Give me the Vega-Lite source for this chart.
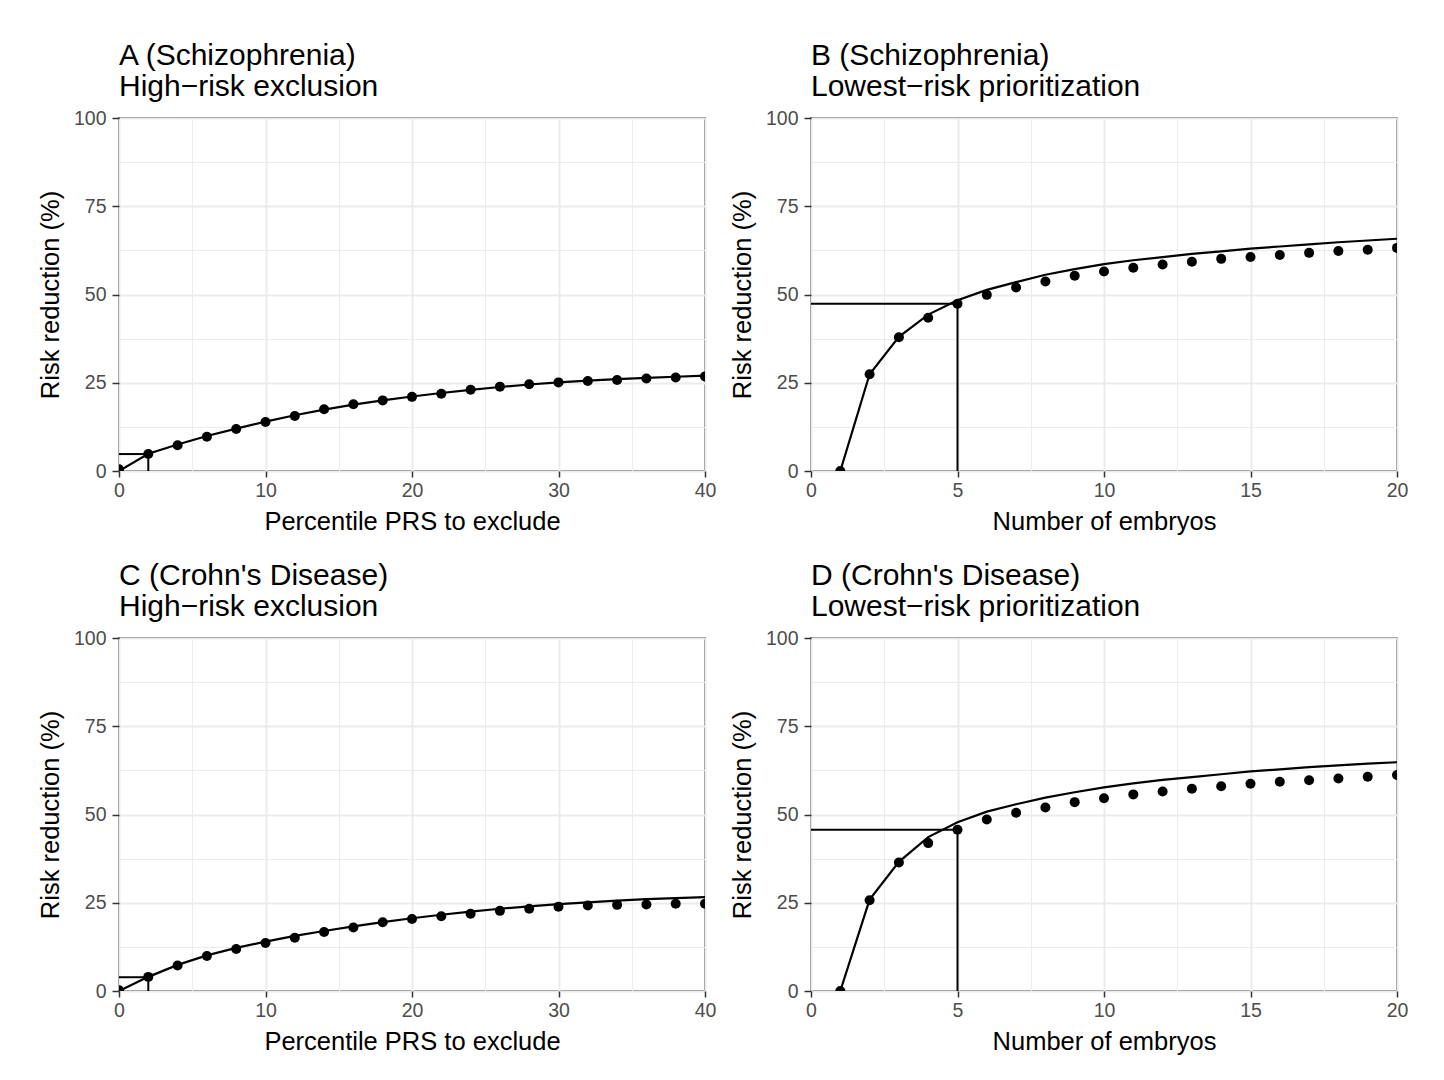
{
  "$schema": "https://vega.github.io/schema/vega-lite/v6.json",
  "padding": {"left": 37, "top": 40, "right": 0, "bottom": 0},
  "background": "white",
  "datasets": {
    "A": [
      {"x": 0, "obs": 0.5, "pred": 0},
      {"x": 2, "obs": 4.8, "pred": 4.9},
      {"x": 4, "obs": 7.3, "pred": 7.5},
      {"x": 6, "obs": 9.7, "pred": 9.9},
      {"x": 8, "obs": 11.9, "pred": 12.0},
      {"x": 10, "obs": 13.9, "pred": 14.0},
      {"x": 12, "obs": 15.6, "pred": 15.8},
      {"x": 14, "obs": 17.5, "pred": 17.4},
      {"x": 16, "obs": 18.9, "pred": 18.8},
      {"x": 18, "obs": 20.0, "pred": 20.0},
      {"x": 20, "obs": 21.0, "pred": 21.1},
      {"x": 22, "obs": 21.9, "pred": 22.1},
      {"x": 24, "obs": 23.0, "pred": 23.0},
      {"x": 26, "obs": 23.9, "pred": 23.8},
      {"x": 28, "obs": 24.6, "pred": 24.5},
      {"x": 30, "obs": 25.1, "pred": 25.1},
      {"x": 32, "obs": 25.5, "pred": 25.6},
      {"x": 34, "obs": 25.8, "pred": 26.0},
      {"x": 36, "obs": 26.2, "pred": 26.4},
      {"x": 38, "obs": 26.5, "pred": 26.7},
      {"x": 40, "obs": 26.8, "pred": 27.0}
    ],
    "C": [
      {"x": 0, "obs": 0.2, "pred": 0},
      {"x": 2, "obs": 4.0, "pred": 4.0},
      {"x": 4, "obs": 7.2, "pred": 7.4},
      {"x": 6, "obs": 9.9, "pred": 10.1},
      {"x": 8, "obs": 11.9, "pred": 12.2},
      {"x": 10, "obs": 13.6, "pred": 14.0},
      {"x": 12, "obs": 15.1, "pred": 15.6},
      {"x": 14, "obs": 16.7, "pred": 17.0},
      {"x": 16, "obs": 18.0, "pred": 18.3},
      {"x": 18, "obs": 19.5, "pred": 19.5},
      {"x": 20, "obs": 20.4, "pred": 20.6},
      {"x": 22, "obs": 21.2, "pred": 21.6},
      {"x": 24, "obs": 21.9, "pred": 22.5},
      {"x": 26, "obs": 22.7, "pred": 23.3},
      {"x": 28, "obs": 23.3, "pred": 24.0},
      {"x": 30, "obs": 23.9, "pred": 24.6},
      {"x": 32, "obs": 24.2, "pred": 25.1},
      {"x": 34, "obs": 24.4, "pred": 25.6},
      {"x": 36, "obs": 24.5, "pred": 26.0},
      {"x": 38, "obs": 24.7, "pred": 26.3},
      {"x": 40, "obs": 24.7, "pred": 26.6}
    ],
    "B": [
      {"x": 1, "obs": 0, "pred": 0},
      {"x": 2, "obs": 27.4, "pred": 27.4},
      {"x": 3, "obs": 37.9, "pred": 38.0},
      {"x": 4, "obs": 43.4, "pred": 44.3},
      {"x": 5, "obs": 47.4, "pred": 48.4},
      {"x": 6, "obs": 49.9, "pred": 51.3},
      {"x": 7, "obs": 52.0, "pred": 53.5},
      {"x": 8, "obs": 53.7, "pred": 55.6},
      {"x": 9, "obs": 55.3, "pred": 57.2},
      {"x": 10, "obs": 56.5, "pred": 58.6},
      {"x": 11, "obs": 57.6, "pred": 59.7},
      {"x": 12, "obs": 58.5, "pred": 60.6},
      {"x": 13, "obs": 59.3, "pred": 61.5},
      {"x": 14, "obs": 60.1, "pred": 62.2},
      {"x": 15, "obs": 60.6, "pred": 63.0},
      {"x": 16, "obs": 61.2, "pred": 63.6},
      {"x": 17, "obs": 61.8, "pred": 64.2},
      {"x": 18, "obs": 62.3, "pred": 64.8},
      {"x": 19, "obs": 62.7, "pred": 65.3},
      {"x": 20, "obs": 63.2, "pred": 65.8}
    ],
    "D": [
      {"x": 1, "obs": 0, "pred": 0},
      {"x": 2, "obs": 25.7, "pred": 25.9},
      {"x": 3, "obs": 36.4, "pred": 36.6},
      {"x": 4, "obs": 41.9, "pred": 43.6},
      {"x": 5, "obs": 45.7, "pred": 47.8},
      {"x": 6, "obs": 48.6, "pred": 50.8},
      {"x": 7, "obs": 50.5, "pred": 52.9},
      {"x": 8, "obs": 52.0, "pred": 54.8},
      {"x": 9, "obs": 53.5, "pred": 56.3},
      {"x": 10, "obs": 54.6, "pred": 57.7},
      {"x": 11, "obs": 55.7, "pred": 58.8},
      {"x": 12, "obs": 56.5, "pred": 59.8},
      {"x": 13, "obs": 57.3, "pred": 60.6},
      {"x": 14, "obs": 58.0, "pred": 61.4},
      {"x": 15, "obs": 58.7, "pred": 62.2},
      {"x": 16, "obs": 59.3, "pred": 62.8},
      {"x": 17, "obs": 59.7, "pred": 63.4},
      {"x": 18, "obs": 60.2, "pred": 63.9},
      {"x": 19, "obs": 60.7, "pred": 64.4},
      {"x": 20, "obs": 61.2, "pred": 64.8}
    ],
    "refA": [{"n": 2, "r": 4.8, "z": 0}],
    "refB": [{"n": 5, "r": 47.4, "z": 0}],
    "refC": [{"n": 2, "r": 3.9, "z": 0}],
    "refD": [{"n": 5, "r": 45.7, "z": 0}]
  },
  "columns": 2,
  "spacing": {"row": 167, "column": 106},
  "bounds": "flush",
  "concat": [
    {
      "width": 586, "height": 353,
      "title": {"text": ["A (Schizophrenia)", "High−risk exclusion"]},
      "layer": [
        {"data": {"name": "A"}, "mark": {"type": "line", "color": "black", "strokeWidth": 2.2, "clip": true},
         "encoding": {
           "x": {"field": "x", "type": "quantitative", "scale": {"domain": [0, 40], "nice": false},
                 "axis": {"title": "Percentile PRS to exclude", "values": [0,5,10,15,20,25,30,35,40],
                          "labelExpr": "datum.value % 10 === 0 ? datum.label : ''",
                          "gridWidth": {"condition": {"test": "datum.value % 10 === 0", "value": 2}, "value": 1},
                          "tickOpacity": {"condition": {"test": "datum.value % 10 === 0", "value": 1}, "value": 0}}},
           "y": {"field": "pred", "type": "quantitative", "scale": {"domain": [0, 100], "nice": false},
                 "axis": {"title": "Risk reduction (%)", "values": [0,12.5,25,37.5,50,62.5,75,87.5,100],
                          "labelExpr": "datum.value % 25 === 0 ? datum.label : ''",
                          "gridWidth": {"condition": {"test": "datum.value % 25 === 0", "value": 2}, "value": 1},
                          "tickOpacity": {"condition": {"test": "datum.value % 25 === 0", "value": 1}, "value": 0}}}
         }},
        {"data": {"name": "A"}, "mark": {"type": "point", "filled": true, "color": "black", "opacity": 1, "size": 100, "clip": true},
         "encoding": {"x": {"field": "x", "type": "quantitative"}, "y": {"field": "obs", "type": "quantitative"}}},
        {"data": {"name": "refA"}, "mark": {"type": "rule", "color": "black", "strokeWidth": 2},
         "encoding": {"x": {"field": "z", "type": "quantitative"}, "x2": {"field": "n"}, "y": {"field": "r", "type": "quantitative"}}},
        {"data": {"name": "refA"}, "mark": {"type": "rule", "color": "black", "strokeWidth": 2},
         "encoding": {"x": {"field": "n", "type": "quantitative"}, "y": {"field": "z", "type": "quantitative"}, "y2": {"field": "r"}}}
      ]
    },
    {
      "width": 586, "height": 353,
      "title": {"text": ["B (Schizophrenia)", "Lowest−risk prioritization"]},
      "layer": [
        {"data": {"name": "B"}, "mark": {"type": "line", "color": "black", "strokeWidth": 2.2, "clip": true},
         "encoding": {
           "x": {"field": "x", "type": "quantitative", "scale": {"domain": [0, 20], "nice": false},
                 "axis": {"title": "Number of embryos", "values": [0,2.5,5,7.5,10,12.5,15,17.5,20],
                          "labelExpr": "datum.value % 5 === 0 ? datum.label : ''",
                          "gridWidth": {"condition": {"test": "datum.value % 5 === 0", "value": 2}, "value": 1},
                          "tickOpacity": {"condition": {"test": "datum.value % 5 === 0", "value": 1}, "value": 0}}},
           "y": {"field": "pred", "type": "quantitative", "scale": {"domain": [0, 100], "nice": false},
                 "axis": {"title": "Risk reduction (%)", "values": [0,12.5,25,37.5,50,62.5,75,87.5,100],
                          "labelExpr": "datum.value % 25 === 0 ? datum.label : ''",
                          "gridWidth": {"condition": {"test": "datum.value % 25 === 0", "value": 2}, "value": 1},
                          "tickOpacity": {"condition": {"test": "datum.value % 25 === 0", "value": 1}, "value": 0}}}
         }},
        {"data": {"name": "B"}, "mark": {"type": "point", "filled": true, "color": "black", "opacity": 1, "size": 100, "clip": true},
         "encoding": {"x": {"field": "x", "type": "quantitative"}, "y": {"field": "obs", "type": "quantitative"}}},
        {"data": {"name": "refB"}, "mark": {"type": "rule", "color": "black", "strokeWidth": 2},
         "encoding": {"x": {"field": "z", "type": "quantitative"}, "x2": {"field": "n"}, "y": {"field": "r", "type": "quantitative"}}},
        {"data": {"name": "refB"}, "mark": {"type": "rule", "color": "black", "strokeWidth": 2},
         "encoding": {"x": {"field": "n", "type": "quantitative"}, "y": {"field": "z", "type": "quantitative"}, "y2": {"field": "r"}}}
      ]
    },
    {
      "width": 586, "height": 353,
      "title": {"text": ["C (Crohn's Disease)", "High−risk exclusion"]},
      "layer": [
        {"data": {"name": "C"}, "mark": {"type": "line", "color": "black", "strokeWidth": 2.2, "clip": true},
         "encoding": {
           "x": {"field": "x", "type": "quantitative", "scale": {"domain": [0, 40], "nice": false},
                 "axis": {"title": "Percentile PRS to exclude", "values": [0,5,10,15,20,25,30,35,40],
                          "labelExpr": "datum.value % 10 === 0 ? datum.label : ''",
                          "gridWidth": {"condition": {"test": "datum.value % 10 === 0", "value": 2}, "value": 1},
                          "tickOpacity": {"condition": {"test": "datum.value % 10 === 0", "value": 1}, "value": 0}}},
           "y": {"field": "pred", "type": "quantitative", "scale": {"domain": [0, 100], "nice": false},
                 "axis": {"title": "Risk reduction (%)", "values": [0,12.5,25,37.5,50,62.5,75,87.5,100],
                          "labelExpr": "datum.value % 25 === 0 ? datum.label : ''",
                          "gridWidth": {"condition": {"test": "datum.value % 25 === 0", "value": 2}, "value": 1},
                          "tickOpacity": {"condition": {"test": "datum.value % 25 === 0", "value": 1}, "value": 0}}}
         }},
        {"data": {"name": "C"}, "mark": {"type": "point", "filled": true, "color": "black", "opacity": 1, "size": 100, "clip": true},
         "encoding": {"x": {"field": "x", "type": "quantitative"}, "y": {"field": "obs", "type": "quantitative"}}},
        {"data": {"name": "refC"}, "mark": {"type": "rule", "color": "black", "strokeWidth": 2},
         "encoding": {"x": {"field": "z", "type": "quantitative"}, "x2": {"field": "n"}, "y": {"field": "r", "type": "quantitative"}}},
        {"data": {"name": "refC"}, "mark": {"type": "rule", "color": "black", "strokeWidth": 2},
         "encoding": {"x": {"field": "n", "type": "quantitative"}, "y": {"field": "z", "type": "quantitative"}, "y2": {"field": "r"}}}
      ]
    },
    {
      "width": 586, "height": 353,
      "title": {"text": ["D (Crohn's Disease)", "Lowest−risk prioritization"]},
      "layer": [
        {"data": {"name": "D"}, "mark": {"type": "line", "color": "black", "strokeWidth": 2.2, "clip": true},
         "encoding": {
           "x": {"field": "x", "type": "quantitative", "scale": {"domain": [0, 20], "nice": false},
                 "axis": {"title": "Number of embryos", "values": [0,2.5,5,7.5,10,12.5,15,17.5,20],
                          "labelExpr": "datum.value % 5 === 0 ? datum.label : ''",
                          "gridWidth": {"condition": {"test": "datum.value % 5 === 0", "value": 2}, "value": 1},
                          "tickOpacity": {"condition": {"test": "datum.value % 5 === 0", "value": 1}, "value": 0}}},
           "y": {"field": "pred", "type": "quantitative", "scale": {"domain": [0, 100], "nice": false},
                 "axis": {"title": "Risk reduction (%)", "values": [0,12.5,25,37.5,50,62.5,75,87.5,100],
                          "labelExpr": "datum.value % 25 === 0 ? datum.label : ''",
                          "gridWidth": {"condition": {"test": "datum.value % 25 === 0", "value": 2}, "value": 1},
                          "tickOpacity": {"condition": {"test": "datum.value % 25 === 0", "value": 1}, "value": 0}}}
         }},
        {"data": {"name": "D"}, "mark": {"type": "point", "filled": true, "color": "black", "opacity": 1, "size": 100, "clip": true},
         "encoding": {"x": {"field": "x", "type": "quantitative"}, "y": {"field": "obs", "type": "quantitative"}}},
        {"data": {"name": "refD"}, "mark": {"type": "rule", "color": "black", "strokeWidth": 2},
         "encoding": {"x": {"field": "z", "type": "quantitative"}, "x2": {"field": "n"}, "y": {"field": "r", "type": "quantitative"}}},
        {"data": {"name": "refD"}, "mark": {"type": "rule", "color": "black", "strokeWidth": 2},
         "encoding": {"x": {"field": "n", "type": "quantitative"}, "y": {"field": "z", "type": "quantitative"}, "y2": {"field": "r"}}}
      ]
    }
  ],
  "config": {
    "font": "Liberation Sans",
    "view": {"stroke": "#333333", "strokeWidth": 1.5},
    "axis": {
      "domain": false,
      "gridColor": "#EBEBEB",
      "tickColor": "#333333",
      "tickSize": 6,
      "tickWidth": 1.5,
      "labelColor": "#4D4D4D",
      "labelFontSize": 19.5,
      "labelPadding": 4,
      "labelFlush": false,
      "labelOverlap": false,
      "titleFontSize": 25.5,
      "titleFontWeight": "normal",
      "titleColor": "black",
      "titlePadding": 13
    },
    "axisX": {"titlePadding": 10},
    "axisY": {"tickSize": 7, "labelPadding": 6, "titlePadding": 10},
    "title": {"fontSize": 30, "fontWeight": "normal", "anchor": "start", "frame": "group", "color": "black", "lineHeight": 31, "offset": 6}
  }
}
